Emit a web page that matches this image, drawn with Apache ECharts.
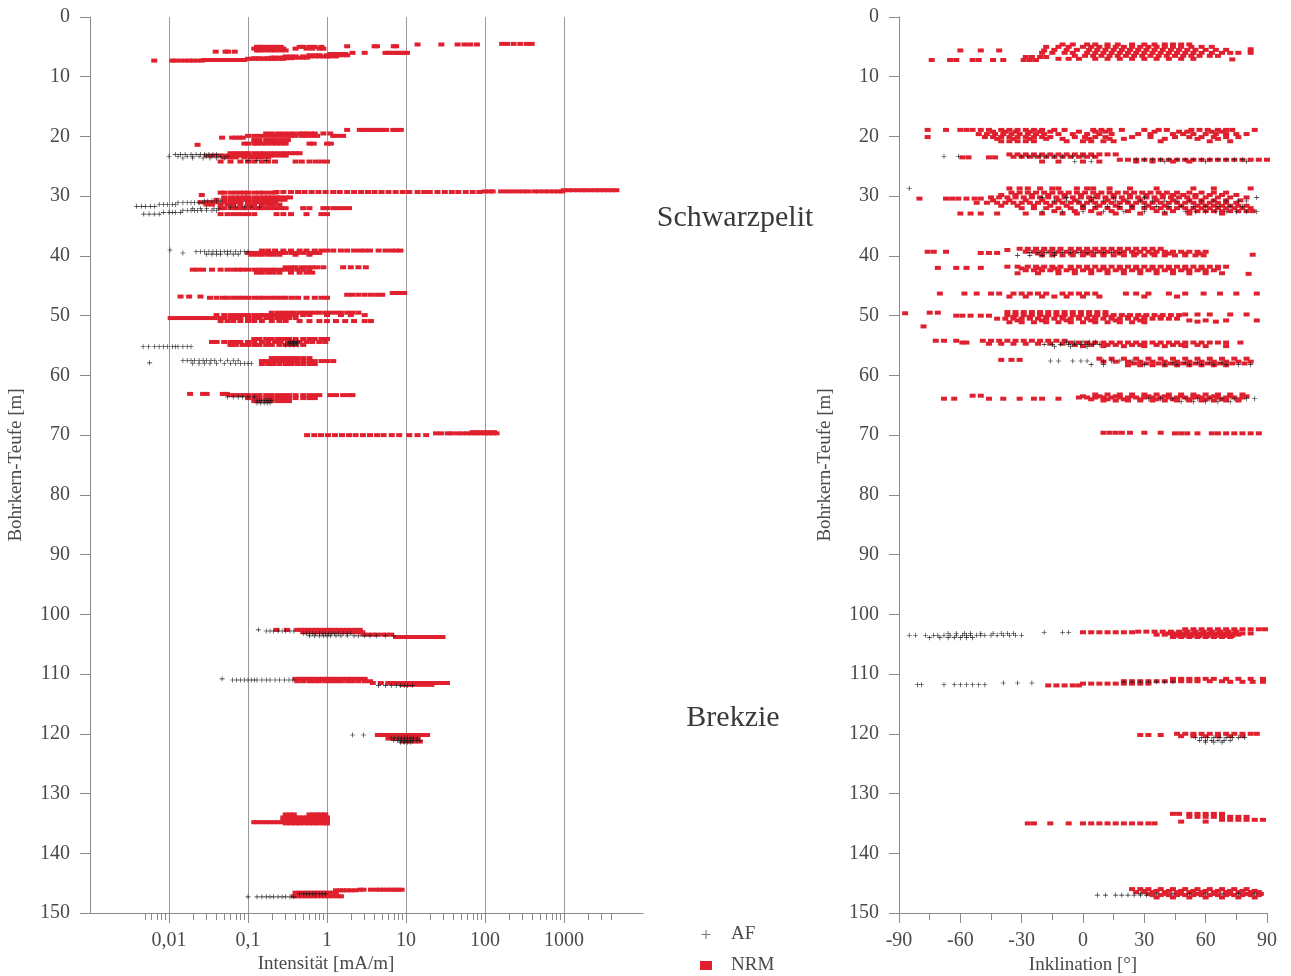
<!DOCTYPE html>
<html><head><meta charset="utf-8">
<script src="https://cdn.jsdelivr.net/npm/echarts@6/dist/echarts.min.js"></script>
<style>html,body{margin:0;padding:0;background:#fff}#c{width:1291px;height:976px}</style>
</head><body><div id="c"></div>
<script>
// ---------- tick labels ----------
const intensityTickValues = [0.01, 0.1, 1, 10, 100, 1000];
const intensityTickLabels = ['0,01', '0,1', '1', '10', '100', '1000'];
const intensityMinorTicks = [0.005,0.006,0.007,0.008,0.009, 0.02,0.03,0.04,0.05,0.06,0.07,0.08,0.09,
  0.2,0.3,0.4,0.5,0.6,0.7,0.8,0.9, 2,3,4,5,6,7,8,9, 20,30,40,50,60,70,80,90, 200,300,400,500,600,700,800,900, 2000,3000,4000];
const depthRange = [0, 150];
const inclinationRange = [-90, 90];

// ---------- data rows: [depth (m), [values...]] ----------
// Intensität, NRM (mA/m)
const nrmIntensity = [
  [4.5,[165,190,230,280,340,390]],
  [4.6,[14,28,45,55,65,79]],
  [4.9,[1.8,4.0,4.3,7.0,7.5]],
  [5.0,[0.13,0.14,0.15,0.17,0.19,0.21,0.23,0.26,0.45,0.5,0.6,0.7,0.85]],
  [5.3,[0.12,0.13,0.15,0.16,0.18,0.2,0.22,0.25,0.28,0.4,0.55,0.65,0.8,0.9]],
  [5.6,[0.13,0.14,0.16,0.19,0.22,0.26,0.3]],
  [5.8,[0.039,0.052,0.056,0.068]],
  [6.0,[2.1,3.0,5.5,6.0,6.6,7.2,7.9,8.6,9.4,10.3]],
  [6.2,[1.1,1.2,1.35,1.5,1.7]],
  [7.3,[0.0065]],
  [7.3,[0.011,0.012,0.014,0.016,0.018,0.02,0.023,0.026]],
  [7.2,[0.028,0.031,0.035,0.04,0.045,0.05,0.056,0.063,0.07,0.08,0.09]],
  [7.0,[0.1,0.11,0.12,0.14,0.16,0.18,0.2,0.22,0.25,0.28]],
  [6.8,[0.2,0.22,0.25,0.28,0.32,0.36,0.4,0.45,0.5,0.56]],
  [6.6,[0.3,0.35,0.4,0.5,0.6,0.7,0.8,0.9,1.0,1.1,1.3]],
  [6.4,[0.6,0.7,0.8,1.0,1.2,1.4,1.6,1.8]],
  [6.9,[0.12,0.14,0.17,0.2,0.25,0.3,0.35]],
  [18.9,[1.8,2.6,2.9,3.2,3.6,4.0,4.5,5.0,5.6,6.9,7.6,8.6]],
  [19.5,[0.17,0.2,0.24,0.28,0.33,0.38,0.45,0.5,0.55,0.62,0.7,0.9,1.1]],
  [19.9,[0.1,0.12,0.14,0.16,0.19,0.22,0.26,0.3,0.35,0.4,0.48,0.55,0.65,0.75,1.2,1.4,1.6]],
  [20.2,[0.047,0.063,0.07,0.078,0.086]],
  [20.6,[0.12,0.14,0.17,0.2,0.23,0.27,0.32]],
  [21.2,[0.09,0.1,0.12,0.13,0.15,0.17,0.2,0.23,0.26,0.3,0.6,0.68,1.0,1.12]],
  [21.4,[0.023]],
  [22.8,[0.06,0.07,0.08,0.09,0.1,0.12,0.14,0.16,0.19,0.22,0.26,0.3,0.35,0.4,0.45]],
  [23.2,[0.03,0.035,0.04,0.045,0.05,0.06,0.07,0.08,0.09,0.1,0.12,0.14,0.16,0.19,0.22,0.26,0.3]],
  [23.5,[0.05,0.06,0.07,0.09,0.11,0.13,0.15,0.18]],
  [24.2,[0.045,0.06,0.08,0.1,0.12,0.15,0.18,0.22,0.4,0.48,0.6,0.72,0.85,1.0]],
  [29.3,[0.23,0.28,0.35,0.43,0.52,0.64,0.78,0.96,1.2,1.45,1.8,2.2,2.7,3.3,4.0,4.9,6.0,7.4,9.1,11,14,17,20,25,31,38,46,57,70,85]],
  [29.2,[100,115,125,160,190,220,260,300,350,420,480,560,650,750,850,950]],
  [29.0,[1000,1150,1300,1500,1700,1900,2200,2500,2800,3200,3600,4100,4600]],
  [29.4,[0.045,0.05,0.06,0.07,0.08,0.09,0.1,0.12,0.14,0.16,0.19,0.22]],
  [29.8,[0.026]],
  [30.2,[0.05,0.06,0.07,0.08,0.09,0.1,0.12,0.14,0.16,0.18,0.2,0.23,0.26,0.3,0.34]],
  [30.6,[0.04,0.05,0.06,0.07,0.08,0.09,0.1,0.12,0.14,0.16,0.19,0.22,0.25,0.29]],
  [31.0,[0.025,0.03,0.035,0.04,0.05,0.06,0.07,0.08,0.1,0.12,0.14,0.16,0.19,0.22]],
  [31.4,[0.03,0.035,0.045,0.055,0.065,0.08,0.1,0.12,0.15,0.18,0.21,0.25]],
  [32.0,[0.045,0.05,0.06,0.07,0.08,0.09,0.1,0.12,0.14,0.16,0.19,0.22,0.26,0.3,0.5,0.6,0.9,1.0,1.2,1.4,1.6,1.9]],
  [33.0,[0.045,0.055,0.065,0.075,0.085,0.1,0.12,0.23,0.28,0.35,0.55,0.85,1.0]],
  [39.1,[0.15,0.18,0.22,0.28,0.35,0.45,0.55,0.7,0.85,1.0,1.2,1.5,1.8,2.2,2.6,3.0,3.5,4.5,5.5,6.5,7.5,8.5]],
  [39.5,[0.1,0.11,0.12,0.14,0.16,0.19,0.22,0.26,0.3,0.36,0.42,0.5,0.6,0.7,0.8]],
  [39.8,[0.11,0.13,0.15,0.18,0.21,0.25,0.4,0.6]],
  [41.9,[0.3,0.35,0.4,0.48,0.56,0.65,0.75,0.9,1.6,2.0,2.5,3.1]],
  [42.3,[0.02,0.023,0.027,0.035,0.045,0.055,0.065,0.075,0.085,0.1,0.12,0.14,0.16,0.19,0.22,0.26,0.3,0.35,0.42,0.5,0.6]],
  [42.8,[0.13,0.15,0.18,0.21,0.25,0.35,0.45,0.55,0.65]],
  [46.8,[0.014,0.018,0.025]],
  [47.0,[0.033,0.04,0.048,0.055,0.065,0.075,0.085,0.1,0.12,0.14,0.16,0.19,0.22,0.26,0.3,0.36,0.43,0.55,0.7,0.85,1.0]],
  [46.5,[1.8,2.1,2.5,3.0,3.6,4.3,5.0]],
  [46.2,[6.8,7.5,8.5,9.5]],
  [49.5,[0.2,0.24,0.28,0.33,0.38,0.45,0.52,0.6,0.7,0.8,0.95,1.1,1.3,1.5,1.8,2.1,2.5]],
  [49.9,[0.04,0.05,0.06,0.07,0.08,0.09,0.1,0.12,0.14,0.16,0.19,0.22,0.26,0.3,0.35,0.4,0.5,0.6,1.0,1.5,2.0,3.0]],
  [50.4,[0.0105,0.012,0.014,0.016,0.018,0.021,0.024,0.028,0.033,0.038,0.045,0.05,0.06,0.07,0.08,0.1,0.12,0.14,0.17,0.2,0.24,0.28,0.33,0.4]],
  [50.9,[0.045,0.055,0.065,0.08,0.1,0.12,0.15,0.2,0.25,0.3,0.45,0.6,0.8,1.0,1.3,1.7,2.2,3.0,3.6]],
  [53.9,[0.12,0.14,0.17,0.2,0.24,0.28,0.33,0.4,0.5,0.6,0.7,0.85,1.0]],
  [54.4,[0.035,0.04,0.05,0.06,0.07,0.08,0.1,0.12,0.15,0.18,0.22,0.26,0.32,0.38,0.45,0.55,0.65,0.8,0.95]],
  [54.9,[0.06,0.07,0.085,0.1,0.12,0.14,0.17,0.2,0.25,0.3,0.35,0.4,0.5]],
  [57.1,[0.2,0.23,0.27,0.31,0.36,0.42,0.5,0.6]],
  [57.6,[0.15,0.17,0.2,0.23,0.27,0.31,0.36,0.42,0.5,0.6,0.7,0.85,1.0,1.2]],
  [58.1,[0.15,0.18,0.21,0.25,0.3,0.35,0.42,0.5,0.6,0.7]],
  [63.1,[0.0185,0.027,0.03,0.048,0.054]],
  [63.3,[0.06,0.07,0.08,0.09,0.1,0.12,0.14,0.17,0.2,0.24,0.28,0.33,0.4,0.5,0.6,0.7,0.8,1.1,1.3,1.6,1.9,2.1]],
  [63.8,[0.1,0.12,0.14,0.17,0.2,0.24,0.28,0.33,0.4,0.5,0.6,0.7]],
  [64.3,[0.12,0.14,0.17,0.2,0.24,0.28,0.33]],
  [70.0,[0.56,0.69,0.84,1.03,1.26,1.55,1.9,2.3,2.85,3.5,4.3,5.2,6.6,8.2,11,14,18]],
  [69.7,[24,28,34,38,45,52,60,68,78,88,100,112,125,140]],
  [69.5,[70,80,95,110,130]],
  [102.6,[0.23,0.31,0.42,0.47,0.52,0.58,0.65,0.72,0.8,0.9,1.0,1.1,1.25,1.4,1.6,1.8,2.0,2.3,2.6]],
  [103.0,[0.5,0.56,0.63,0.7,0.8,0.9,1.0,1.15,1.3,1.5,1.7,1.9,2.2,2.5,2.8]],
  [103.4,[2.9,3.3,3.8,4.3,5.0,5.7,6.5]],
  [103.8,[7.5,8.5,9.7,11,12.5,14,16,18,20,23,26,29]],
  [110.8,[0.4,0.45,0.5,0.56,0.63,0.7,0.8,0.9,1.0,1.1,1.25,1.4,1.6,1.8,2.0,2.3,2.6,3.0]],
  [111.2,[0.42,0.5,0.6,0.7,0.8,0.95,1.1,1.3,1.5,1.8,2.1,2.5,3.0,3.5]],
  [111.5,[3.8,4.8,6.0,6.8,7.8,9.0,10.5,12,14,16,18,21,24,27,30,33]],
  [111.8,[9,10,11,12,14,16,18,21]],
  [120.2,[4.4,5.0,5.7,6.5,7.4,8.4,9.5,11,12.5,14,16,18.5]],
  [120.8,[6.0,7.0,8.0,9.0,10,11,12.5,14]],
  [121.3,[9,10,11.5,13,15]],
  [134.8,[0.12,0.13,0.15,0.17,0.19,0.21,0.24,0.27]],
  [133.5,[0.3,0.34,0.38,0.6,0.68,0.76,0.85,0.95]],
  [134.0,[0.28,0.32,0.36,0.4,0.45,0.5,0.56,0.63,0.7,0.8,0.9,1.0]],
  [134.5,[0.28,0.32,0.36,0.4,0.45,0.5,0.56,0.63,0.7,0.8,0.9,1.0]],
  [135.0,[0.3,0.35,0.4,0.45,0.52,0.6,0.68,0.78,0.9,1.0]],
  [146.6,[0.4,0.45,0.5,0.56,0.62,0.7,0.78,0.86,0.95,1.05,1.15,1.3]],
  [147.2,[0.38,0.43,0.48,0.54,0.6,0.67,0.75,0.85,0.95,1.05,1.2,1.35,1.5]],
  [146.2,[1.3,1.45,1.6,1.8,2.0,2.3]],
  [146.1,[2.6,2.9,3.6,4.2,4.7,5.2,5.8,6.5,7.2,8.0,8.8]]
];
// Intensität, AF (mA/m)
const afIntensity = [
  [23.0,[0.012,0.014,0.016,0.019,0.022,0.025,0.028,0.032,0.036,0.04]],
  [23.3,[0.01,0.013,0.017,0.02,0.024,0.03,0.035,0.045,0.055]],
  [23.6,[0.015,0.02,0.027,0.033,0.04,0.05]],
  [24.0,[0.1,0.13,0.17]],
  [31.7,[0.0039,0.0045,0.005,0.0058,0.0066]],
  [31.4,[0.0075,0.0085,0.0095,0.011,0.012]],
  [31.1,[0.013,0.015,0.017,0.019,0.021,0.024,0.027]],
  [30.8,[0.028,0.031,0.035,0.04,0.045]],
  [33.0,[0.0048,0.0056,0.0065,0.0075]],
  [32.7,[0.0085,0.01,0.011,0.012,0.014]],
  [32.4,[0.015,0.017,0.019,0.021,0.023,0.026,0.03,0.035,0.04]],
  [32.1,[0.02,0.025,0.03,0.037,0.043]],
  [31.8,[0.06,0.07,0.09,0.11,0.14]],
  [39.0,[0.0103]],
  [39.5,[0.015]],
  [39.3,[0.022,0.025,0.028,0.032,0.036,0.04,0.045,0.05,0.055,0.06,0.07,0.08,0.09,0.1]],
  [39.7,[0.03,0.035,0.04,0.045,0.055,0.065,0.075]],
  [55.2,[0.0047,0.0055,0.0066,0.0075,0.0085,0.0095,0.011,0.012,0.013,0.015,0.017,0.019]],
  [54.6,[0.33,0.35,0.37,0.39,0.41]],
  [54.3,[0.34,0.38,0.42]],
  [54.9,[0.3,0.34,0.38,0.43]],
  [57.9,[0.0057]],
  [57.5,[0.015,0.017,0.019,0.021,0.024,0.027,0.03,0.034,0.038,0.045,0.055,0.065,0.075]],
  [58.0,[0.02,0.024,0.028,0.033,0.04,0.05,0.06,0.07,0.08,0.09,0.1,0.11]],
  [63.6,[0.055,0.065,0.075,0.085,0.1,0.12]],
  [64.2,[0.13,0.14,0.15,0.16,0.17,0.18,0.19,0.2]],
  [64.6,[0.13,0.145,0.16,0.175,0.19]],
  [102.6,[0.135]],
  [102.8,[0.17,0.19,0.21,0.24,0.27,0.3,0.34,0.38]],
  [103.2,[0.5,0.55,0.6,0.66,0.72,0.8,0.88,0.96,1.05,1.15,1.25,1.4,1.6,1.8,2.0]],
  [103.6,[0.6,0.7,0.8,0.9,1.0,1.1,1.3,1.5,1.8,2.2,2.5,3.0,3.5,4.2,5.5,7.0]],
  [110.8,[0.047]],
  [111.0,[0.064,0.072,0.08,0.09,0.1,0.11,0.12,0.13,0.15,0.17,0.19,0.22,0.25,0.29,0.33,0.37]],
  [111.9,[4.5,5.5,6.5,7.5,8.5,9.5,10.5,12]],
  [120.2,[2.1,2.9]],
  [120.7,[6.5,7.2,8.0,8.8,9.6,10.5,11.5,12.5,14]],
  [121.1,[7.0,7.8,8.6,9.4,10.2,11.2,12.2,13.5,15]],
  [121.4,[8.5,9.5,10.5,11.5]],
  [147.3,[0.1,0.13,0.15,0.17,0.19,0.21,0.24,0.27,0.3,0.34,0.38]],
  [146.8,[0.45,0.5,0.55,0.6,0.66,0.72,0.8,0.88,0.96]]
];
// Inklination, NRM (degrees)
const nrmInclination = [
  [7.2,[-74,-65,-62,-54,-51,-44,-39,-29,-26,-23]],
  [5.6,[-60,-50,-41,-19]],
  [6.7,[-28,-25,-21,-18]],
  [4.6,[-10,-5,2,6,12,17,24,30,35,40,44,48,52]],
  [5.0,[-18,-12,-7,0,4,8,12,16,20,24,28,32,36,40,44,48,53,58,63]],
  [5.5,[-14,-8,-3,3,7,11,15,19,23,27,31,35,39,43,47,51,55,60,65,70]],
  [6.0,[-20,-15,-9,-5,2,6,10,14,18,22,26,30,34,38,42,46,50,54,58,63,68,72,76]],
  [6.5,[-4,1,5,9,13,17,21,25,29,33,37,41,45,49,53,57,62,66]],
  [7.0,[-12,-7,-2,6,12,18,24,30,36,42,48,54]],
  [5.4,[82]],[6.0,[82]],[7.1,[73]],
  [18.9,[-76,-67,-60,-57,-54,-50,-46,-40,-36,-32,-28,-24,-20,-14,-9,5,9,13,19,30,37,41,53,57,61,66,70,73,84]],
  [19.2,[-44,-38,-33,-26,-21,-16,-2,6,11,35,47,51,63,68]],
  [19.6,[-51,-47,-43,-39,-35,-31,-27,-23,-19,-12,-5,2,8,14,27,33,44,49,54,60,65,70,75,80]],
  [20.1,[-76,-48,-44,-40,-36,-32,-28,-24,-20,-16,-4,1,6,11,24,33,45,52,58,64,70,76]],
  [20.4,[-42,-34,-26,-18,-10,3,13,20,40,56,66]],
  [20.8,[-40,-36,-32,-28,-24,-8,0,4,10,15,38,62,72]],
  [23.5,[-59,-56,-46,-43]],
  [23.0,[-36,-32,-28,-24,-20,-16,-12,-8,-4,0,4,8,12,16]],
  [23.4,[-34,-30,-26,-22,-18,-14,-10,-6,-2,2,6]],
  [23.9,[18,22,26,30,34,38,42,46,50,54,58,62,66,70,74,78,82,86,90]],
  [24.2,[-20,-12,0,8,26,34,44,52]],
  [30.4,[-80,-67,-64,-61,-57,-53,-50]],
  [28.7,[-36,-31,-27,-21,-15,-12,-3,2,5,13,23,36,54,64,82]],
  [29.4,[-35,-31,-27,-23,-19,-15,-11,-7,-3,1,5,9,13,17,21,25,29,33,37,41,46,52,58,64,70]],
  [29.8,[-40,-33,-25,-17,-9,-1,7,15,23,31,39,44,49,55,62,68,75]],
  [30.2,[-45,-41,-37,-33,-29,-25,-21,-17,-13,-9,-5,-1,3,7,11,15,19,23,27,31,35,39,43,47,51,55,60,66,72,80]],
  [30.7,[-44,-36,-28,-20,-12,-4,4,12,20,28,36,44,52,58,64,70,77]],
  [31.1,[-52,-47,-42,-38,-34,-30,-26,-22,-18,-14,-10,-6,-2,2,6,10,14,18,22,26,30,34,38,42,46,50,54,58,62,66,70,75]],
  [31.6,[-40,-32,-24,-16,-8,0,8,16,24,32,40,48,56,60,64,68,72,76,80]],
  [32.0,[-30,-24,-18,-12,-6,0,6,12,18,24,30,34,38,42,46,50,54,58,62,66,70,74,78,82]],
  [32.5,[-14,-4,4,14,22,36,44,52,56,60,64,68,72,76,80,83]],
  [32.9,[-60,-55,-50,-42,-28,-20,-10,-3,8,16,28,40,52,68]],
  [39.3,[-76,-73,-67]],
  [39.5,[-50,-46,-42]],
  [39.0,[-37]],
  [38.8,[-31,-27,-23,-19,-15,-11,-6,-2,2,6,10,14,18,22,26,30,34,38]],
  [39.3,[-28,-24,-20,-16,-12,-8,-4,0,4,8,12,16,20,24,28,32,36,40,44,48,52,56,60]],
  [39.6,[-22,-14,-6,2,10,18,26,34,42,50,57]],
  [39.9,[-20,-15,-10,-5,0,5,10,15,20,25,30,35,40,45,50,55,59]],
  [39.8,[83]],
  [42.0,[-71,-62,-57,-50]],
  [41.8,[-37,-32,-27,-23,-19,-15,-11,-6,-2,2,6,10,14,18,22,26,30,34,38,42,46,50,54,58,62,66,70]],
  [42.1,[-30,-22,-14,-6,2,10,18,26,34,42,50,58,66]],
  [42.4,[-28,-24,-20,-16,-12,-8,-4,0,4,8,12,16,20,24,28,32,36,40,44,48,52,56,60,64]],
  [42.9,[-32,-22,-12,-4,4,12,20,28,36,44,52,60,68]],
  [43.0,[81]],
  [46.3,[-70,-58,-52,-45,-41,-34,-30,-26,-22,-18,-10,-6,-2,2,6,21,26,32,42,50,59,67,75,85]],
  [46.8,[-36,-28,-20,-14,-8,0,8,30,46]],
  [49.6,[-87]],[49.5,[-75,-71]],[51.8,[-78]],
  [50.0,[-62,-59,-55,-50,-46]],
  [49.4,[-37,-33,-29,-25,-21,-17,-13,-9,-5,-1,3,7,11]],
  [49.9,[-37,-33,-29,-25,-21,-17,-13,-9,-5,-1,3,7,11,15,19,23,27,31,35,39,43,47]],
  [50.2,[-34,-26,-18,-10,-2,6,14,22,30,38]],
  [50.5,[-42,-38,-34,-30,-26,-22,-18,-14,-10,-6,-2,2,6,10,14,18,22,26,30,34,38,42,46]],
  [50.8,[-32,-20,-8,4,16,28]],
  [51.1,[-36,-30,-24,-18,-12,-6,0,6,12,18,24,30]],
  [49.8,[50,56,62,72,80]],[50.8,[52,60,70,85]],[51.0,[56,65]],
  [54.2,[-72,-68,-62]],
  [54.5,[-59,-57]],
  [54.2,[-49,-45,-41,-37,-33,-29,-25,-21,-17,-13,-9]],
  [54.7,[-46,-40,-34,-28,-22,-16,-10]],
  [54.5,[-6,-2,2,6,10,14,18,22,26,30,34,38,42,46,50,54,58,62,66,70,77]],
  [54.9,[-4,4,12,16,24,28,36,44,48,56]],
  [55.1,[0,10,20,30,40,50,60,70]],
  [57.4,[-40,-35,-31]],
  [57.2,[8,14,20,26,32,38,44,50,56,62,68,74,80]],
  [57.7,[10,16,22,28,34,40,46,52,58,64,70,76,82]],
  [58.0,[25,31,37,43,49,55,61,67,73,79]],
  [58.3,[22,28,34,40,46,52,58,64,70]],
  [63.9,[-68,-63]],
  [63.4,[-54,-50]],
  [63.9,[-46,-39,-31,-24,-20,-12]],
  [63.2,[6,12,18,24,30,36,42,48,54,60,66,72,78]],
  [63.5,[0,8,16,24,32,40,48,56,64,72,80]],
  [63.7,[-2,2,6,10,14,18,22,26,30,34,38,42,46,50,54,58,62,66,70,74,78]],
  [64.0,[4,12,20,28,36,44,52,60,68,76]],
  [64.2,[10,16,22,28,34,40,46,52,58,64,70,76]],
  [69.6,[10,13,16,19,23,30,38]],
  [69.7,[45,48,51,56,63,66,70,74,78,82,86]],
  [103.0,[0,4,8,12,16,20,24]],
  [102.5,[50,54,58,62,66,70,74,78,82,86,89]],
  [102.9,[27,31,35,39,43,47,51,55,59,63,67,71,75]],
  [103.2,[42,46,50,54,58,62,66,70,74,78,82]],
  [103.4,[36,40,44,48,52,56,60,64,68,72,76]],
  [103.6,[45,49,53,57,61,65,69,73]],
  [103.8,[44,48,52,56,60,64,68,72]],
  [111.9,[-17,-13,-9,-5,-2]],
  [111.6,[0,4,8,12,16,20,24,28,32]],
  [111.2,[20,24,28,32,36,40,44,48,52,56,62,68]],
  [110.8,[44,48,52,56,60,64,70,76,82,88]],
  [111.3,[72,78,83,88]],
  [120.2,[28,32,38]],
  [120.0,[46,50,54,58,62,66,70,74,78,82,85]],
  [120.4,[48,54,60,66,72,78]],
  [135.0,[-27,-24,-16,-7,0,4,8,12,16,20,24,28,32,35]],
  [133.4,[44,47,52,56,60,64,68]],
  [133.9,[52,56,60,64,68,72,76,80]],
  [134.4,[68,72,76,80,84,88]],
  [134.7,[48,60]],
  [146.0,[24,28,32,38,44,50,56,62,68,74,80]],
  [146.3,[30,36,42,48,54,60,66,72,78,84]],
  [146.5,[26,30,34,40,46,52,58,64,70,76,82,86]],
  [146.8,[32,40,48,56,64,72,80,87]],
  [147.0,[34,38,42,46,50,54,58,62,66,70,74,78,82,86]],
  [147.4,[36,44,52,60,68,76,84]]
];
// Inklination, AF (degrees)
const afInclination = [
  [23.3,[-68,-61,-30,-27,-24,-21,-18,-14,-10,-5,0,5]],
  [23.9,[26,30,34,38,42,46,50,54,58,62,66,70,74,78]],
  [24.2,[-4,4,40,60,80]],
  [28.7,[-85]],
  [30.8,[-14,-8,-2,4,10,16,22,28,34,40,46,52,58,64,70,76,80]],
  [31.7,[0,6,12,18,24,30,36,42,48,54,60,66,72,78]],
  [32.6,[-20,-10,0,10,20,30,40,50,55,60,65,70,75,80,85]],
  [30.2,[-20,-8,5,15,30,85]],
  [39.4,[-26,-22,-18,-14,-10,-6,-2,2,6,10,14,18]],
  [39.9,[-32,-26,-20,-14]],
  [54.8,[-19,-15,-11,-7,-4,-1,2,5,8]],
  [54.4,[-8,-4,0,3,6]],
  [55.2,[-14,-6,2]],
  [57.6,[-16,-12,-5,-1,2,10,14,18,24]],
  [58.2,[4,10,30,40,46,52,58,64,70,76,82]],
  [57.9,[44,50,56,62,68]],
  [63.9,[32,38,44,50,56,62,68,74,80,84]],
  [64.4,[48,54,60,66,72]],
  [103.5,[-85,-82,-77,-73,-71,-68,-65,-62,-59,-57,-55,-52,-50,-48,-45,-42,-39,-36,-33,-30]],
  [103.9,[-75,-70,-66,-63,-60,-57,-54]],
  [103.2,[-66,-62,-58,-55,-50,-44,-40,-37,-34]],
  [103.0,[-19,-10,-7]],
  [111.8,[-81,-79,-68,-63,-60,-57,-54,-51,-48]],
  [111.5,[-39,-32,-25]],
  [111.3,[20,24,28,32,36,40,44]],
  [120.6,[55,58,61,64,67,70,73,76,79]],
  [121.1,[57,60,63,66,69,72]],
  [121.4,[60,64,68]],
  [147.0,[7,11,16,19,22,25,28,31]],
  [146.8,[28,36,44,52,60,68,76,84]]
];

// ---------- build ----------
function expand(rows){const out=[];rows.forEach(r=>r[1].forEach(v=>out.push([v,r[0]])));return out;}
const FONT='Liberation Serif';
const TXT='#4a4a4a';
const AXC='#8a8a8a';
const RED='#e0202e';
const PLUS='path://M4.4,0H5.6V4.4H10V5.6H5.6V10H4.4V5.6H0V4.4H4.4Z';
const G0={left:90,top:17,width:553,height:896,outerBoundsMode:'none',containLabel:false};
const G1={left:899,top:17,width:368,height:896,outerBoundsMode:'none',containLabel:false};

function yAxisCfg(gi){
  return {type:'value',gridIndex:gi,inverse:true,min:depthRange[0],max:depthRange[1],interval:10,
    position:'left',
    name:'Bohrkern-Teufe [m]',nameLocation:'middle',nameGap:64,
    nameTextStyle:{fontFamily:FONT,fontSize:19,color:TXT},
    axisLine:{show:true,onZero:false,lineStyle:{color:AXC,width:1}},
    axisTick:{show:true,length:10,lineStyle:{color:AXC}},
    axisLabel:{margin:20,fontFamily:FONT,fontSize:20,color:TXT},
    splitLine:{show:false}};
}

const chart=echarts.init(document.getElementById('c'),null,{renderer:'canvas'});
chart.setOption({
  animation:false,
  backgroundColor:'#fff',
  grid:[Object.assign({},G0),Object.assign({},G1),Object.assign({},G0)],
  xAxis:[
    {type:'log',logBase:10,gridIndex:0,min:0.001,max:10000,splitNumber:7,
     axisLine:{show:true,onZero:false,lineStyle:{color:AXC,width:1}},
     axisTick:{show:true,length:10,customValues:intensityTickValues,lineStyle:{color:AXC}},
     axisLabel:{margin:18,fontFamily:FONT,fontSize:20,color:TXT,customValues:intensityTickValues,
       formatter:v=>{const i=intensityTickValues.findIndex(t=>Math.abs(Math.log10(t)-Math.log10(v))<1e-6);return i>=0?intensityTickLabels[i]:'';}},
     splitLine:{show:true,showMinLine:true,showMaxLine:true,lineStyle:{color:'#9a9a9a',width:1}}},
    {type:'value',gridIndex:1,min:inclinationRange[0],max:inclinationRange[1],interval:30,
     name:'Inklination [°]',nameLocation:'middle',nameGap:42,
     nameTextStyle:{fontFamily:FONT,fontSize:19,color:TXT},
     axisLine:{show:true,onZero:false,lineStyle:{color:AXC,width:1}},
     axisTick:{show:true,length:10,lineStyle:{color:AXC}},
     minorTick:{show:true,splitNumber:2,length:7,lineStyle:{color:AXC}},
     axisLabel:{margin:18,fontFamily:FONT,fontSize:20,color:TXT},
     splitLine:{show:false}},
    {type:'log',logBase:10,gridIndex:2,min:0.001,max:10000,splitNumber:7,
     axisLine:{show:false},
     axisTick:{show:true,length:7,customValues:intensityMinorTicks,lineStyle:{color:AXC}},
     axisLabel:{show:false},splitLine:{show:false}}
  ],
  yAxis:[yAxisCfg(0),yAxisCfg(1),{type:'value',gridIndex:2,show:false,min:0,max:150}],
  legend:{orient:'vertical',left:700,top:925,height:70,padding:0,itemGap:12,itemWidth:12,itemHeight:9,
    textStyle:{fontFamily:FONT,fontSize:19,color:TXT,padding:[0,0,0,14]},
    data:[{name:'AF',icon:PLUS,itemStyle:{color:'#777'}},{name:'NRM',icon:'rect'}]},
  graphic:[
    {type:'text',style:{x:326,y:964,text:'Intensität [mA/m]',font:'19px "Liberation Serif"',fill:TXT,align:'center',verticalAlign:'middle'}},
    {type:'text',style:{x:735,y:218,text:'Schwarzpelit',font:'30px "Liberation Serif"',fill:'#3a3a3a',align:'center',verticalAlign:'middle'}},
    {type:'text',style:{x:733,y:718,text:'Brekzie',font:'30px "Liberation Serif"',fill:'#3a3a3a',align:'center',verticalAlign:'middle'}}
  ],
  series:[
    {name:'NRM',type:'scatter',xAxisIndex:0,yAxisIndex:0,symbol:'rect',symbolSize:[6,4],
     itemStyle:{color:RED,opacity:1},data:expand(nrmIntensity),z:2,silent:true},
    {name:'AF',type:'scatter',xAxisIndex:0,yAxisIndex:0,symbol:PLUS,symbolSize:5,
     itemStyle:{color:'#1a1a1a',opacity:1},data:expand(afIntensity),z:3,silent:true},
    {name:'NRM',type:'scatter',xAxisIndex:1,yAxisIndex:1,symbol:'rect',symbolSize:[6,4],
     itemStyle:{color:RED,opacity:1},data:expand(nrmInclination),z:2,silent:true},
    {name:'AF',type:'scatter',xAxisIndex:1,yAxisIndex:1,symbol:PLUS,symbolSize:5,
     itemStyle:{color:'#1a1a1a',opacity:1},data:expand(afInclination),z:3,silent:true}
  ]
});
</script></body></html>
